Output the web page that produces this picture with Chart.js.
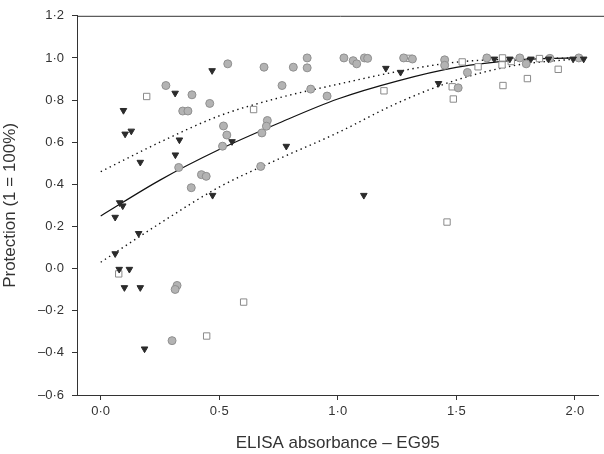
<!DOCTYPE html>
<html>
<head>
<meta charset="utf-8">
<script src="https://cdn.jsdelivr.net/npm/chart.js@4"></script>
<style>
  body { margin: 0; background: #fff; }
  #wrap { width: 604px; height: 454px; }
</style>
</head>
<body>
<div id="wrap"><canvas id="chart" width="604" height="454"></canvas></div>
<script>
// tick labels
let xTicks = [0, 0.5, 1.0, 1.5, 2.0];
let yTicks = [-0.6, -0.4, -0.2, 0, 0.2, 0.4, 0.6, 0.8, 1.0, 1.2];

// grey circles
let circleX = [0.536, 0.275, 0.385, 0.46, 0.346, 0.368, 0.518, 0.532, 0.514, 0.329, 0.425, 0.445, 0.382,
  0.689, 0.8125, 0.871, 0.871, 1.026, 1.065, 1.08, 1.1125, 1.126, 1.278, 1.315, 0.765, 0.886, 0.955,
  0.703, 0.699, 0.68, 0.675, 1.451, 1.451, 1.547, 1.629, 1.768, 1.895, 1.795, 2.017, 1.508,
  0.322, 0.314, 0.301];
let circleY = [0.972, 0.869, 0.825, 0.784, 0.748, 0.748, 0.677, 0.634, 0.581, 0.48, 0.446, 0.438, 0.384,
  0.956, 0.956, 1.0, 0.953, 1.0, 0.987, 0.972, 1.0, 0.998, 1.0, 0.995, 0.869, 0.852, 0.819,
  0.703, 0.676, 0.644, 0.485, 0.991, 0.965, 0.931, 1.0, 1.0, 0.998, 0.972, 1.0, 0.858,
  -0.08, -0.099, -0.342];

// open squares
let squareX = [0.194, 0.076, 0.645, 1.195, 1.302, 1.525, 1.592, 1.695, 1.693, 1.732, 1.851, 1.93, 1.8,
  1.483, 1.697, 1.4875, 0.447, 0.603, 1.461];
let squareY = [0.817, -0.025, 0.755, 0.844, 0.998, 0.981, 0.958, 1.0, 0.967, 0.983, 0.997, 0.946, 0.902,
  0.863, 0.869, 0.805, -0.32, -0.159, 0.221];

// black triangles
let triX = [0.47, 0.314, 0.096, 0.129, 0.103, 0.332, 0.554, 0.315, 0.167, 0.472, 1.203, 1.265, 0.783,
  1.11, 1.425, 1.661, 1.726, 1.815, 1.889, 1.993, 2.0375, 0.08, 0.093, 0.061, 0.16, 0.061, 0.078,
  0.121, 0.1, 0.167, 0.185];
let triY = [0.94, 0.833, 0.751, 0.653, 0.639, 0.611, 0.603, 0.54, 0.505, 0.348, 0.951, 0.932, 0.581,
  0.348, 0.879, 0.995, 0.995, 0.995, 0.995, 0.995, 0.995, 0.313, 0.298, 0.244, 0.167, 0.071, -0.003,
  -0.003, -0.09, -0.09, -0.381];

// fitted curve and its bounds
let curveX = [0, 0.25, 0.5, 0.75, 1.0, 1.25, 1.5, 1.75, 2.0];
let fitY = [0.25, 0.42, 0.565, 0.69, 0.805, 0.89, 0.955, 0.99, 1.0];
let upperY = [0.46, 0.6, 0.725, 0.81, 0.875, 0.935, 0.98, 0.995, 1.0];
let lowerY = [0.03, 0.215, 0.387, 0.52, 0.645, 0.785, 0.895, 0.965, 0.995];

let pts = (xs, ys) => xs.map((x, i) => ({ x: x, y: ys[i] }));

let fmt = (v) => {
  let s = Math.abs(v).toFixed(1).replace(".", "\u00b7");
  return v < -1e-9 ? "\u2013" + s : s;
};

let topLine = {
  id: "topLine",
  afterDraw(chart) {
    let ctx = chart.ctx;
    let a = chart.chartArea;
    ctx.save();
    ctx.strokeStyle = "#333";
    ctx.lineWidth = 1;
    ctx.beginPath();
    ctx.moveTo(a.left, a.top + 0.5);
    ctx.lineTo(604, a.top + 0.5);
    ctx.stroke();
    ctx.restore();
  },
};

let ctx = document.querySelector("#chart");
new Chart(ctx, {
  type: "scatter",
  data: {
    datasets: [
      {
        label: "circles",
        data: pts(circleX, circleY),
        pointStyle: "circle",
        pointRadius: 4,
        backgroundColor: "#b3b3b3",
        borderColor: "#8f8f8f",
        borderWidth: 1,
        order: 1,
      },
      {
        label: "squares",
        data: pts(squareX, squareY),
        pointStyle: "rect",
        pointRadius: 4.5,
        backgroundColor: "#ffffff",
        borderColor: "#8a8a8a",
        borderWidth: 1,
        order: 1,
      },
      {
        label: "triangles",
        data: pts(triX, triY),
        pointStyle: "triangle",
        rotation: 180,
        pointRadius: 3.8,
        backgroundColor: "#2b2b2b",
        borderColor: "#2b2b2b",
        borderWidth: 1,
        order: 0,
      },
      {
        type: "line",
        label: "fit",
        data: pts(curveX, fitY),
        borderColor: "#111",
        borderWidth: 1.2,
        pointRadius: 0,
        cubicInterpolationMode: "monotone",
        fill: false,
        order: 2,
      },
      {
        type: "line",
        label: "upper",
        data: pts(curveX, upperY),
        borderColor: "#111",
        borderWidth: 1.4,
        borderDash: [1.4, 3.6],
        pointRadius: 0,
        cubicInterpolationMode: "monotone",
        fill: false,
        order: 2,
      },
      {
        type: "line",
        label: "lower",
        data: pts(curveX, lowerY),
        borderColor: "#111",
        borderWidth: 1.4,
        borderDash: [1.4, 3.6],
        pointRadius: 0,
        cubicInterpolationMode: "monotone",
        fill: false,
        order: 2,
      },
    ],
  },
  options: {
    responsive: false,
    animation: false,
    layout: { padding: { top: 14, right: 1, left: 0, bottom: 0 } },
    plugins: { legend: { display: false }, tooltip: { enabled: false } },
    scales: {
      x: {
        type: "linear",
        min: -0.1,
        max: 2.1,
        afterBuildTicks: (s) => { s.ticks = xTicks.map((v) => ({ value: v })); },
        afterFit: (s) => { s.height = 59; },
        grid: { drawOnChartArea: false, drawTicks: true, tickLength: 5, color: "#333" },
        border: { display: true, color: "#333", width: 1 },
        ticks: {
          callback: (v) => fmt(v),
          color: "#333",
          padding: 4,
          maxRotation: 0,
          font: { family: "'Liberation Sans', Arial, sans-serif", size: 13 },
        },
        title: {
          display: true,
          text: "ELISA absorbance \u2013 EG95",
          color: "#333",
          padding: { top: 6, bottom: 0 },
          font: { family: "'Liberation Sans', Arial, sans-serif", size: 17 },
        },
      },
      y: {
        type: "linear",
        min: -0.6,
        max: 1.2,
        afterBuildTicks: (s) => { s.ticks = yTicks.map((v) => ({ value: v })); },
        afterFit: (s) => { s.width = 77; },
        grid: { drawOnChartArea: false, drawTicks: true, tickLength: 5, color: "#333" },
        border: { display: true, color: "#333", width: 1 },
        ticks: {
          callback: (v) => fmt(v),
          color: "#333",
          padding: 8,
          font: { family: "'Liberation Sans', Arial, sans-serif", size: 13 },
        },
        title: {
          display: true,
          text: "Protection (1 = 100%)",
          color: "#333",
          padding: { top: 0, bottom: 4 },
          font: { family: "'Liberation Sans', Arial, sans-serif", size: 17 },
        },
      },
    },
  },
  plugins: [topLine],
});
</script>
</body>
</html>
